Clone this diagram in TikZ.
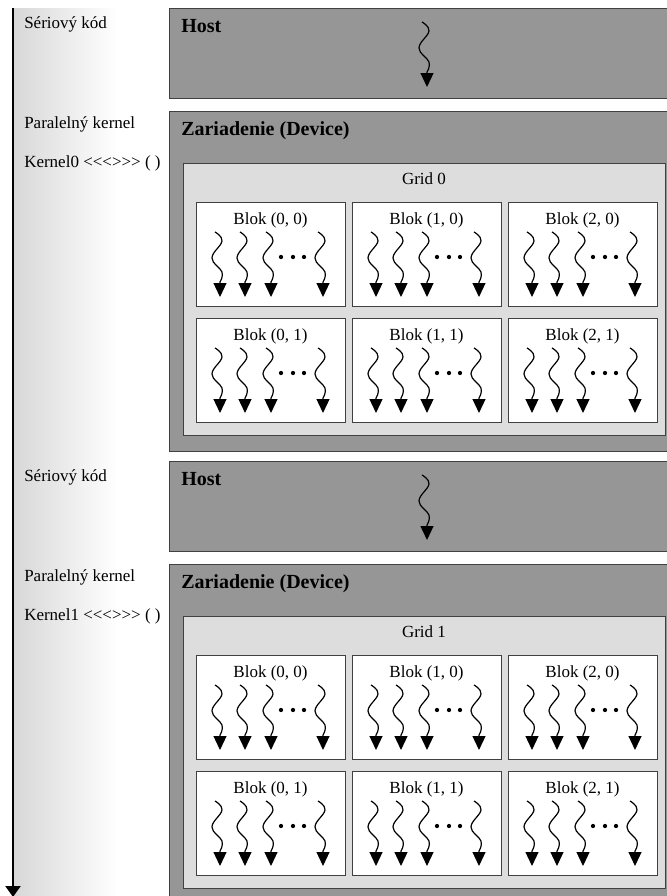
\documentclass[tikz,border=0pt]{standalone}
\usepackage{fontspec}
\setmainfont{Liberation Serif}
\usetikzlibrary{arrows.meta}
\definecolor{hostgray}{RGB}{150,150,150}
\definecolor{gridgray}{RGB}{221,221,221}
\definecolor{gradgray}{RGB}{216,216,216}
\newcommand\kangles{<\kern0pt<\kern0pt<\kern0pt>\kern0pt>\kern0pt>}
\begin{document}
\begin{tikzpicture}[x=0.75pt,y=-0.75pt,
  sz/.style 2 args={minimum width=#1*0.75pt, minimum height=#2*0.75pt},
  box/.style={draw=black!75, line width=0.8pt, rectangle, inner sep=0pt, anchor=north west},
  hostbox/.style={box, fill=hostgray},
  gridbox/.style={box, fill=gridgray},
  blockbox/.style={box, fill=white},
  lbl/.style={font=\fontsize{12.75}{14}\selectfont, inner sep=0pt},
  blbl/.style={font=\fontsize{15}{17}\selectfont\bfseries, inner sep=0pt},
  wave/.style={line width=0.9pt},
  timeline/.style={line width=1.6pt, -{Triangle[width=11.25pt,length=8.25pt]}},
  thread/.pic={\draw[wave,-{Triangle[width=9.75pt,length=10.5pt]}] plot[smooth, tension=0.7] coordinates {(-5,0) (2,9) (-8,26) (2,40) (0,50)} -- (0,65);},
]
\useasboundingbox (0,0) rectangle (667,896);
\shade[left color=gradgray, right color=white] (14,8) rectangle (118,896);
\coordinate (tltop) at (13,8);
\coordinate (tlend) at (13,897);
\draw[timeline] (tltop) -- (tlend);

\foreach \dtop/\gname/\kname/\sid in {0/0/Kernel0/1, 453/1/Kernel1/2} {
  % left labels
  \node[lbl, anchor=base west] (ser\sid) at (24,28+\dtop) {Sériový kód};
  \node[lbl, anchor=base west] (par\sid) at (24,128+\dtop) {Paralelný kernel};
  \node[lbl, anchor=base west] (ker\sid) at (24,167+\dtop) {\kname\ \kangles\ ( )};
  % host
  \node[hostbox, sz={501}{90}] (host\sid) at (169,8+\dtop) {};
  \node[blbl, anchor=base west] (hostlbl\sid) at (181,32+\dtop) {Host};
  \pic at (427,22+\dtop) {thread};
  % device
  \node[hostbox, sz={501}{340}] (dev\sid) at (169,111+\dtop) {};
  \node[blbl, anchor=base west] (devlbl\sid) at (181,135+\dtop) {Zariadenie (Device)};
  % grid
  \node[gridbox, sz={482}{272}] (grid\gname) at (183,163+\dtop) {};
  \node[lbl, anchor=base] (gridlbl\gname) at (424,184+\dtop) {Grid \gname};
  % blocks
  \foreach \bx/\L in {0/196,1/352,2/508} {
    \foreach \by/\T in {0/202,1/318} {
      \node[blockbox, sz={149}{104}] (blk\gname-\bx-\by) at (\L,\T+\dtop) {};
      \node[lbl, anchor=base] (blklbl\gname-\bx-\by) at (\L+74.5,\T+22+\dtop) {Blok (\bx, \by)};
      \foreach \o in {24,49,75,127} {
        \pic at (\L+\o,\T+30+\dtop) {thread};
      }
      \foreach \o in {85,97,108} {
        \fill (\L+\o,\T+55+\dtop) circle (1.6pt);
      }
    }
  }
}
\end{tikzpicture}
\end{document}
